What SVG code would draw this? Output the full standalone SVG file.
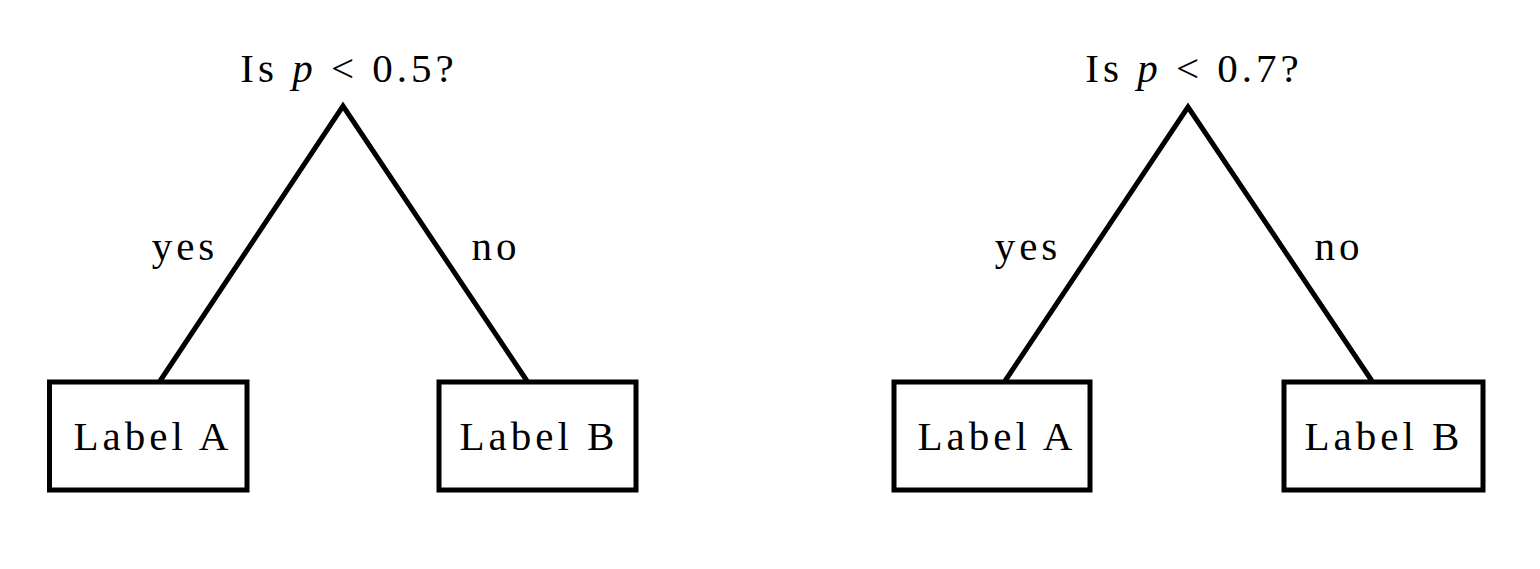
<svg xmlns="http://www.w3.org/2000/svg" width="1540" height="569" viewBox="0 0 1540 569">
<style>
text{font-family:"Liberation Serif","Times New Roman",serif;font-size:41px;fill:#000;letter-spacing:4px}
.box{fill:#fff;stroke:#000;stroke-width:5}
.edge{stroke:#000;stroke-width:5;fill:none;stroke-linejoin:miter}
</style>
<rect width="1540" height="569" fill="#fff"/>
<g id="connectors">
<polyline class="edge" points="160,381 343,106 527,381"/>
<polyline class="edge" points="1005,381 1188,107 1372,381"/>
</g>
<g id="q1"><text x="349" y="82" text-anchor="middle">Is <tspan font-style="italic">p</tspan> &lt; 0.5?</text></g>
<g id="q2"><text x="1194" y="82" text-anchor="middle">Is <tspan font-style="italic">p</tspan> &lt; 0.7?</text></g>
<g id="lbl-yes1"><text x="185" y="260" text-anchor="middle">yes</text></g>
<g id="lbl-no1"><text x="496" y="260" text-anchor="middle">no</text></g>
<g id="lbl-yes2"><text x="1028" y="260" text-anchor="middle">yes</text></g>
<g id="lbl-no2"><text x="1339" y="260" text-anchor="middle">no</text></g>
<g id="a1"><rect class="box" x="49.5" y="382" width="197.5" height="108"/><text x="153" y="450" text-anchor="middle">Label A</text></g>
<g id="b1"><rect class="box" x="439" y="382" width="197" height="108"/><text x="539" y="450" text-anchor="middle">Label B</text></g>
<g id="a2"><rect class="box" x="894" y="382" width="196" height="108"/><text x="997" y="450" text-anchor="middle">Label A</text></g>
<g id="b2"><rect class="box" x="1284" y="382" width="199" height="108"/><text x="1384" y="450" text-anchor="middle">Label B</text></g>
</svg>
